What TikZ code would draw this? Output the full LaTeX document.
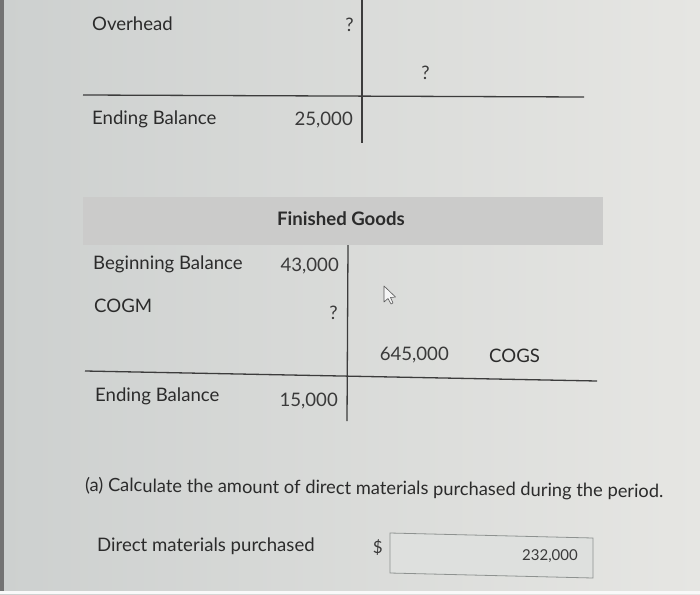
\documentclass[tikz,border=0pt]{standalone}
\usepackage{fontspec}
\setmainfont{Lato}
\definecolor{bgL}{HTML}{CDD0CF}
\definecolor{bgR}{HTML}{E6E6E3}
\definecolor{band}{HTML}{CBCBCA}
\definecolor{ink}{HTML}{2B2B2B}
\definecolor{num}{HTML}{3A3A3A}
\definecolor{rule}{HTML}{3C3C3C}
\definecolor{boxfill}{HTML}{DEE0DE}
\definecolor{boxline}{HTML}{8E9290}
\begin{document}
\begin{tikzpicture}[x=1pt,y=-1pt,
  lbl/.style={anchor=west,inner sep=0pt,font=\fontsize{18.6}{20}\selectfont,text=ink},
  val/.style={anchor=east,inner sep=0pt,font=\fontsize{18.6}{20}\selectfont,text=num},
  tline/.style={draw=rule,line width=1.3pt}]
\useasboundingbox (0,0) rectangle (700,594);
\shade[left color=bgL,right color=bgR] (0,0) rectangle (700,594);
\fill[black!55] (0,0) rectangle (3.5,594);
\fill[white!95!gray] (0,591) rectangle (700,594);
% top partial T-account
\coordinate (t1top) at (362,0);
\coordinate (t1bot) at (362,143);
\coordinate (h1l) at (83,95);
\coordinate (h1r) at (584,97);
\draw[tline] (t1top) -- (t1bot);
\draw[tline] (h1l) -- (h1r);
\node[lbl] (oh) at (92,24) {Overhead};
\node[val] (ohv) at (354,25) {?};
\node[val] (q2) at (430,73) {?};
\node[lbl] (eb1) at (92,119) {Ending Balance};
\node[val] (eb1v) at (353,120) {25,000};
% Finished goods
\fill[band] (83,197) rectangle (603,245);
\node[inner sep=0pt,font=\fontsize{18.6}{20}\selectfont\bfseries,text=ink] (fg) at (341,219) {Finished Goods};
\coordinate (t2top) at (348,245);
\coordinate (t2bot) at (347,421);
\coordinate (h2l) at (85,371);
\coordinate (h2r) at (597,381);
\draw[tline] (t2top) -- (t2bot);
\draw[tline] (h2l) -- (h2r);
\node[lbl] (bb) at (93,264) {Beginning Balance};
\node[val] (bbv) at (339,266) {43,000};
\node[lbl] (cogm) at (94,306) {COGM};
\node[val] (cogmv) at (338,313) {?};
\node[val] (cogsv) at (449,355) {645,000};
\node[lbl] (cogs) at (489,356) {COGS};
\node[lbl] (eb2) at (95,396) {Ending Balance};
\node[val] (eb2v) at (338,401) {15,000};
% cursor
\draw[gray!70!black,fill=white!92!gray,line width=0.6pt,line join=round]
  (384,286) -- (384,302) -- (388,298.5) -- (391,304) -- (393,303) -- (390.5,297.5) -- (395.5,297) -- cycle;
% question
\node[lbl,font=\fontsize{18.3}{20}\selectfont,rotate=-0.6] (qa) at (85,486) {(a) Calculate the amount of direct materials purchased during the period.};
\node[lbl] (dmp) at (97,546) {Direct materials purchased};
\node[val,font=\fontsize{17}{20}\selectfont] (dol) at (383,548) {\$};
\draw[draw=boxline,fill=boxfill,line width=0.8pt] (390,533) -- (593,538) -- (593,578) -- (390,573) -- cycle;
\node[val,font=\fontsize{15}{18}\selectfont] (ans) at (578,556) {232,000};
\end{tikzpicture}
\end{document}
